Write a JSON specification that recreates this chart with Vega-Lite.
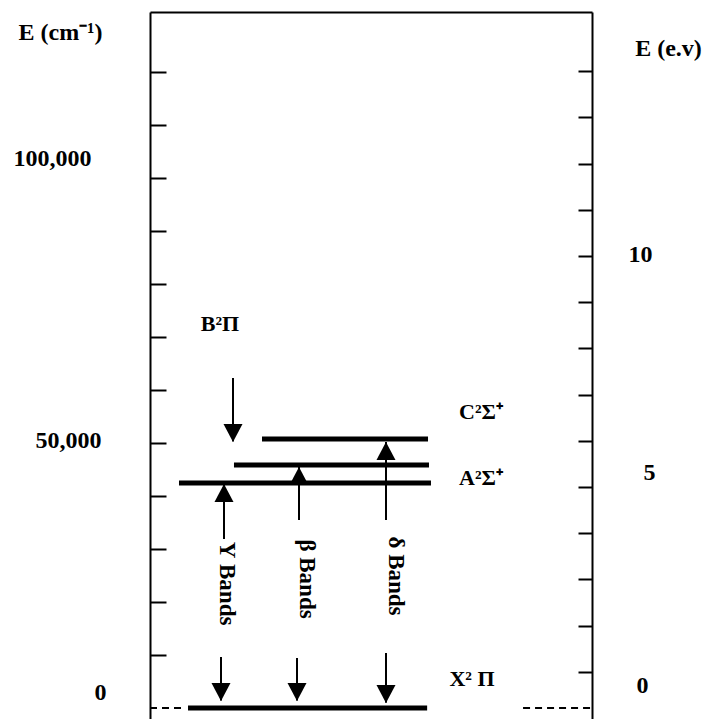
{
  "$schema": "https://vega.github.io/schema/vega-lite/v6.json",
  "autosize": "none",
  "padding": {"left": 150, "top": 12, "right": 115, "bottom": 0},
  "width": 442,
  "height": 707,
  "background": "white",
  "config": {
    "view": {"stroke": null},
    "font": "Liberation Serif",
    "text": {"font": "Liberation Serif", "fontWeight": "bold", "color": "black"}
  },
  "resolve": {"scale": {"y": "independent"}, "axis": {"y": "independent"}},
  "layer": [
    {
      "layer": [
        {
          "data": {"values": [
            {"state": "X2Pi", "x": 0.86, "x2": 6.27, "e": 0},
            {"state": "A2Sigma+", "x": 0.656, "x2": 6.357, "e": 42450},
            {"state": "B2Pi", "x": 1.9, "x2": 6.312, "e": 45850},
            {"state": "C2Sigma+", "x": 2.534, "x2": 6.29, "e": 50750}
          ]},
          "mark": {"type": "rule", "strokeWidth": 5, "color": "black"},
          "encoding": {
            "x": {"field": "x", "type": "quantitative", "scale": {"domain": [0, 10], "nice": false, "zero": false},
              "axis": {"orient": "top", "labels": false, "ticks": false, "title": null, "grid": false, "domainColor": "black", "domainWidth": 2}},
            "x2": {"field": "x2"},
            "y": {"field": "e", "type": "quantitative", "scale": {"domain": [-2075, 131321], "nice": false, "zero": false},
              "axis": {
                "orient": "left",
                "title": "E (cm⁻¹)",
                "titleAngle": 0, "titleX": -90, "titleY": 20, "titleAlign": "center", "titleBaseline": "middle",
                "titleFont": "Liberation Serif", "titleFontSize": 24, "titleFontWeight": "bold", "titleColor": "black",
                "values": [0, 10000, 20000, 30000, 40000, 50000, 60000, 70000, 80000, 90000, 100000, 110000, 120000],
                "labelExpr": "datum.value % 50000 == 0 ? format(datum.value, ',') : ''",
                "labelFont": "Liberation Serif", "labelFontSize": 24, "labelFontWeight": "bold", "labelColor": "black",
                "labelAlign": "right", "labelBaseline": "middle", "labelOverlap": false, "labelBound": false, "labelFlush": false,
                "labelPadding": {"condition": [{"test": "datum.value == 0", "value": 60}, {"test": "datum.value == 50000", "value": 65}], "value": 75},
                "labelOffset": {"condition": [{"test": "datum.value == 0", "value": -16}, {"test": "datum.value == 50000", "value": -3}], "value": -20},
                "tickSize": -16, "tickWidth": 2, "tickColor": "black",
                "tickOpacity": {"condition": {"test": "datum.value == 0", "value": 0}, "value": 1},
                "domainColor": "black", "domainWidth": 2, "grid": false
              }}
          }
        },
        {
          "data": {"values": [
            {"x": 0, "x2": 0.81, "e": 0},
            {"x": 8.44, "x2": 10, "e": 0}
          ]},
          "mark": {"type": "rule", "strokeWidth": 2, "strokeDash": [7, 5], "color": "black"},
          "encoding": {
            "x": {"field": "x", "type": "quantitative"},
            "x2": {"field": "x2"},
            "y": {"field": "e", "type": "quantitative", "scale": {"domain": [-2075, 131321], "nice": false, "zero": false}}
          }
        },
        {
          "data": {"values": [
            {"band": "B2Pi", "x": 1.878, "e": 62264, "e2": 50300},
            {"band": "gamma up", "x": 1.674, "e": 31887, "e2": 42264},
            {"band": "gamma down", "x": 1.606, "e": 9623, "e2": 1400},
            {"band": "beta up", "x": 3.371, "e": 35472, "e2": 45472},
            {"band": "beta down", "x": 3.326, "e": 9434, "e2": 1400},
            {"band": "delta up", "x": 5.339, "e": 35472, "e2": 50189},
            {"band": "delta down", "x": 5.339, "e": 10377, "e2": 1000}
          ]},
          "mark": {"type": "rule", "strokeWidth": 2, "color": "black"},
          "encoding": {
            "x": {"field": "x", "type": "quantitative"},
            "y": {"field": "e", "type": "quantitative", "scale": {"domain": [-2075, 131321], "nice": false, "zero": false}},
            "y2": {"field": "e2"}
          }
        },
        {
          "data": {"values": [
            {"band": "B2Pi", "x": 1.878, "e": 50189, "dir": "down"},
            {"band": "gamma", "x": 1.674, "e": 42264, "dir": "up"},
            {"band": "gamma", "x": 1.606, "e": 1321, "dir": "down"},
            {"band": "beta", "x": 3.371, "e": 45472, "dir": "up"},
            {"band": "beta", "x": 3.326, "e": 1321, "dir": "down"},
            {"band": "delta", "x": 5.339, "e": 50189, "dir": "up"},
            {"band": "delta", "x": 5.339, "e": 943, "dir": "down"}
          ]},
          "mark": {"type": "point", "filled": true, "size": 361, "color": "black", "opacity": 1, "strokeWidth": 0},
          "encoding": {
            "x": {"field": "x", "type": "quantitative"},
            "y": {"field": "e", "type": "quantitative", "scale": {"domain": [-2075, 131321], "nice": false, "zero": false}},
            "shape": {"field": "dir", "type": "nominal", "legend": null,
              "scale": {"domain": ["down", "up"], "range": ["M-1,-1.9L1,-1.9L0,0Z", "M-1,1.9L1,1.9L0,0Z"]}}
          }
        },
        {
          "data": {"values": [
            {"label": "Υ Bands", "x": 1.742, "e": 23491},
            {"label": "β Bands", "x": 3.552, "e": 24340},
            {"label": "δ Bands", "x": 5.566, "e": 24906}
          ]},
          "mark": {"type": "text", "angle": 90, "align": "center", "baseline": "middle", "fontSize": 23, "fontWeight": "bold", "font": "Liberation Serif", "color": "black"},
          "encoding": {
            "x": {"field": "x", "type": "quantitative"},
            "y": {"field": "e", "type": "quantitative", "scale": {"domain": [-2075, 131321], "nice": false, "zero": false}},
            "text": {"field": "label"}
          }
        },
        {
          "data": {"values": [
            {"label": "B²Π", "x": 1.584, "e": 72453},
            {"label": "C²Σ⁺", "x": 7.489, "e": 55849},
            {"label": "A²Σ⁺", "x": 7.489, "e": 43396},
            {"label": "X² Π", "x": 7.285, "e": 5472}
          ]},
          "mark": {"type": "text", "align": "center", "baseline": "middle", "fontSize": 22, "fontWeight": "bold", "font": "Liberation Serif", "color": "black"},
          "encoding": {
            "x": {"field": "x", "type": "quantitative"},
            "y": {"field": "e", "type": "quantitative", "scale": {"domain": [-2075, 131321], "nice": false, "zero": false}},
            "text": {"field": "label"}
          }
        }
      ]
    },
    {
      "data": {"values": [{"ev": 0}, {"ev": 15}]},
      "mark": {"type": "point", "opacity": 0},
      "encoding": {
        "y": {"field": "ev", "type": "quantitative", "scale": {"domain": [-0.0216, 15.281], "nice": false, "zero": false},
          "axis": {
            "orient": "right",
            "title": "E (e.v)",
            "titleAngle": 0, "titleX": 76, "titleY": 36, "titleAlign": "center", "titleBaseline": "middle",
            "titleFont": "Liberation Serif", "titleFontSize": 24, "titleFontWeight": "bold", "titleColor": "black",
            "values": [0, 1, 2, 3, 4, 5, 6, 7, 8, 9, 10, 11, 12, 13, 14],
            "labelExpr": "datum.value % 5 == 0 ? datum.label : ''",
            "labelFont": "Liberation Serif", "labelFontSize": 24, "labelFontWeight": "bold", "labelColor": "black",
            "labelAlign": "center", "labelBaseline": "middle", "labelOverlap": false, "labelBound": false, "labelFlush": false,
            "labelPadding": {"condition": [{"test": "datum.value == 0", "value": 64}, {"test": "datum.value == 5", "value": 71}], "value": 62},
            "labelOffset": {"condition": [{"test": "datum.value == 0", "value": -33}, {"test": "datum.value == 5", "value": -14}], "value": -1},
            "tickSize": -14, "tickWidth": 2, "tickColor": "black",
            "tickOpacity": {"condition": {"test": "datum.value == 0", "value": 0}, "value": 1},
            "domainColor": "black", "domainWidth": 2, "grid": false
          }}
      }
    }
  ]
}
